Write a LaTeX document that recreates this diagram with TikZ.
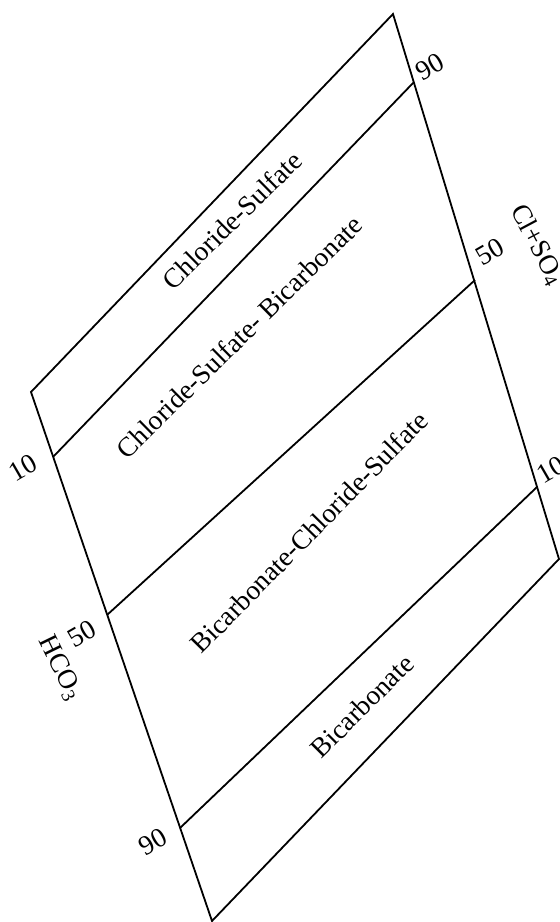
\documentclass[tikz,border=0pt]{standalone}
\usepackage{fontspec}
\setmainfont{Liberation Serif}
\begin{document}
\begin{tikzpicture}[x=1pt,y=-1pt,
  edge/.style={line width=1.8pt, line join=miter},
  lab/.style={font=\fontsize{27.5}{32}\selectfont, inner sep=0pt},
  tick/.style={font=\fontsize{27.5}{32}\selectfont, inner sep=0pt, rotate=30}]
\useasboundingbox (0,0) rectangle (560,922);
\coordinate (L) at (31,392);
\coordinate (T) at (393,14);
\coordinate (R) at (559,559);
\coordinate (B) at (212,921);
\coordinate (a1) at (53,457);
\coordinate (b1) at (414,82);
\coordinate (a2) at (107,615);
\coordinate (b2) at (475,280);
\coordinate (a3) at (180,828);
\coordinate (b3) at (537,487);
\draw[edge] (L) -- (T) -- (R) -- (B) -- cycle;
\draw[edge] (a1) -- (b1);
\draw[edge] (a2) -- (b2);
\draw[edge] (a3) -- (b3);
\node[lab, rotate=44.5] (z1) at (232,220) {Chloride-Sulfate};
\node[lab, rotate=44.5] (z2) at (239,337) {Chloride-Sulfate- Bicarbonate};
\node[lab, rotate=45.5] (z3) at (309,532) {Bicarbonate-Chloride-Sulfate};
\node[lab, rotate=45] (z4) at (362,706) {Bicarbonate};
\node[tick] (r90) at (430,67) {90};
\node[tick] (r50) at (490,252) {50};
\node[tick] (r10) at (551,470) {10};
\node[lab, rotate=-62] (cl) at (537,245) {Cl+SO\textsubscript{4}};
\node[tick] (l10) at (23,468) {10};
\node[tick] (l50) at (82,634) {50};
\node[lab, rotate=-64] (hc) at (60,668) {HCO\textsubscript{3}};
\node[tick] (l90) at (153,842) {90};
\end{tikzpicture}
\end{document}
